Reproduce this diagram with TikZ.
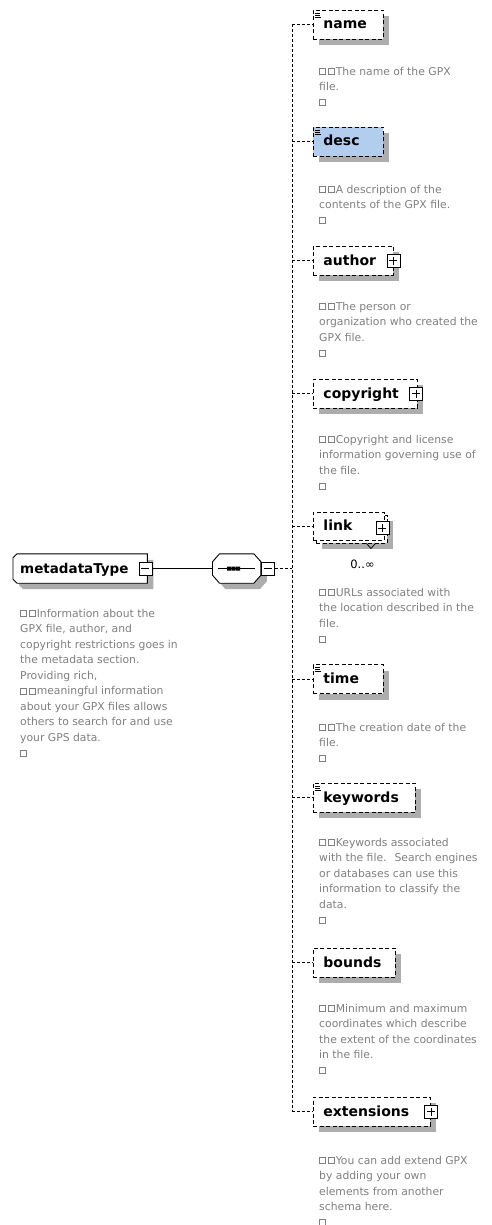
\documentclass[tikz,border=0pt]{standalone}
\usepackage{fontspec}
\setmainfont{DejaVu Sans}
\usetikzlibrary{shadows}

\definecolor{notegray}{HTML}{808080}
\definecolor{shadowgray}{HTML}{ADADAD}
\definecolor{descblue}{HTML}{B3CDEF}

% small hollow square used in the documentation notes
\newcommand\glyphbox{\hbox{\vrule width0.8pt\vbox to 7pt{\hrule height0.8pt width5.4pt\vfil\hrule height0.8pt}\vrule width0.8pt}\kern1.3pt}
\newcommand\leadin{\rule{0pt}{9pt}\glyphbox\glyphbox}

\begin{document}
\begin{tikzpicture}[x=1pt, y=-1pt,
  boxbase/.style={draw, dash pattern=on 4pt off 2.5pt, line width=0.9pt, fill=white,
    minimum height=29pt, inner xsep=10pt, inner ysep=0pt, text height=12pt, text depth=3pt,
    align=left, anchor=west, font=\bfseries\fontsize{14}{16}\selectfont},
  shadowed/.style={general shadow={fill=shadowgray, shadow xshift=6pt, shadow yshift=-6pt}},
  elembox/.style={boxbase, shadowed},
  texticon/.style={path picture={
    \draw[solid, black, line width=0.7pt]
      ([xshift=2pt, yshift=-3pt]path picture bounding box.north west) -- ++(5pt,0pt)
      ([xshift=2pt, yshift=-5pt]path picture bounding box.north west) -- ++(5pt,0pt)
      ([xshift=2pt, yshift=-7pt]path picture bounding box.north west) -- ++(6pt,0pt);}},
  signbox/.style={draw, solid, line width=0.8pt, fill=white, minimum size=13pt, inner sep=0pt},
  plusbox/.style={signbox, path picture={
    \draw[black, line width=0.8pt]
      ([xshift=2.5pt]path picture bounding box.west) -- ([xshift=-2.5pt]path picture bounding box.east)
      ([yshift=-2.5pt]path picture bounding box.north) -- ([yshift=2.5pt]path picture bounding box.south);}},
  minusbox/.style={signbox, path picture={
    \draw[black, line width=0.8pt]
      ([xshift=2.5pt]path picture bounding box.west) -- ([xshift=-2.5pt]path picture bounding box.east);}},
  frame/.style={rectangle, minimum height=29pt, inner sep=0pt},
  typelabel/.style={inner sep=0pt, anchor=base west, font=\bfseries\fontsize{13.5}{16}\selectfont},
  outline/.style={draw, line width=0.9pt, fill=white},
  conn/.style={draw, dash pattern=on 3pt off 2pt, line width=0.9pt},
  solidconn/.style={draw, line width=0.9pt},
  note/.style={anchor=north west, inner sep=0pt, align=left, text=notegray,
    font=\fontsize{10.8}{15.5}\selectfont},
  occ/.style={inner sep=0pt, font=\fontsize{11.5}{13}\selectfont}
]
\fill[white] (0,0) rectangle (492,1225);
\useasboundingbox (0,0) rectangle (492,1225);

% complex type: box with cut corners on its left side
\node[frame, minimum width=134pt, anchor=west] (md) at (13,568.5) {};
\fill[shadowgray] ([xshift=10pt, yshift=-6pt]md.north west) -- ([xshift=6pt, yshift=-6pt]md.north east)
  -- ([xshift=6pt, yshift=-6pt]md.south east) -- ([xshift=10pt, yshift=-6pt]md.south west)
  -- ([xshift=6pt, yshift=-2pt]md.south west) -- ([xshift=6pt, yshift=-10pt]md.north west) -- cycle;
\path[outline] ([xshift=4pt]md.north west) -- (md.north east) -- (md.south east)
  -- ([xshift=4pt]md.south west) -- ([yshift=4pt]md.south west) -- ([yshift=-4pt]md.north west) -- cycle;
\node[typelabel] (mdlabel) at (20,573) {metadataType};
\node[minusbox] (mdminus) at ([xshift=-2pt]md.east) {};

% sequence compositor: octagon with the three-dot bar
\node[frame, minimum width=48pt] (seq) at (236.7,568.5) {};
\fill[shadowgray] ([xshift=13pt, yshift=-6pt]seq.north west) -- ([xshift=-1pt, yshift=-6pt]seq.north east)
  -- ([xshift=6pt, yshift=-14pt]seq.north east) -- ([xshift=6pt, yshift=2pt]seq.south east)
  -- ([xshift=-1pt, yshift=-6pt]seq.south east) -- ([xshift=13pt, yshift=-6pt]seq.south west)
  -- ([xshift=6pt, yshift=2pt]seq.south west) -- ([xshift=6pt, yshift=-14pt]seq.north west) -- cycle;
\path[outline] ([xshift=7pt]seq.north west) -- ([xshift=-7pt]seq.north east)
  -- ([yshift=-8pt]seq.north east) -- ([yshift=8pt]seq.south east)
  -- ([xshift=-7pt]seq.south east) -- ([xshift=7pt]seq.south west)
  -- ([yshift=8pt]seq.south west) -- ([yshift=-8pt]seq.north west) -- cycle;
\draw[line width=1pt] ([xshift=-18.5pt]seq.center) -- ([xshift=18.5pt]seq.center);
\fill ([xshift=-9.7pt, yshift=-2pt]seq.center) rectangle ++(4pt,4pt)
      ([xshift=-5.2pt, yshift=-2pt]seq.center) rectangle ++(4pt,4pt)
      ([xshift=-0.7pt, yshift=-2pt]seq.center) rectangle ++(4pt,4pt);
\node[minusbox, anchor=west] (seqminus) at (seq.east) {};
\draw[solidconn] (mdminus.east) -- (seq.west);
\coordinate (spine) at (292,568.5);
\draw[conn] (seqminus.east) -- (spine);

\node[note] (mdnote) at (20,608) {\leadin Information about the\\GPX file, author, and\\copyright restrictions goes in\\the metadata section.\\Providing rich,\\\glyphbox\glyphbox meaningful information\\about your GPX files allows\\others to search for and use\\your GPS data.\\\glyphbox};

% child elements
\node[elembox, texticon, text width=50pt] (name) at (313,24.5) {name};
\node[elembox, texticon, text width=50pt, fill=descblue] (desc) at (313,141.5) {desc};
\node[elembox, text width=60pt] (author) at (313,260.5) {author};
\node[elembox, text width=84pt] (copyright) at (313,393.5) {copyright};
\node[boxbase, shadowed, text width=51pt, minimum height=28pt] (linkback) at (316,529) {};
\node[boxbase, text width=51pt, minimum height=28pt] (link) at (313,526) {link};
\node[elembox, texticon, text width=50pt] (time) at (313,679) {time};
\node[elembox, texticon, text width=82pt] (keywords) at (313,797.5) {keywords};
\node[elembox, text width=62pt] (bounds) at (313,962.5) {bounds};
\node[elembox, text width=97pt] (extensions) at (313,1111.5) {extensions};

\node[plusbox] (authorplus) at ([xshift=-0.5pt]author.east) {};
\node[plusbox] (copyrightplus) at ([xshift=-2pt]copyright.east) {};
\node[plusbox] (linkplus) at ([xshift=-2.5pt, yshift=-2pt]link.east) {};
\node[plusbox] (extensionsplus) at (extensions.east) {};

% occurrence marker of the repeated element
\draw[solid, line width=0.8pt] ([xshift=14.5pt]linkback.south) -- ++(4.5pt,-5pt) -- ++(4.5pt,5pt);
\node[occ] (linkocc) at (362.5,564) {0..∞};

% sequence branches
\draw[conn] (spine |- name.west) -- (spine |- extensions.west);
\foreach \e in {name,desc,author,copyright,link,time,keywords,bounds,extensions}
  \draw[conn] (spine |- \e.west) -- (\e.west);

% documentation notes
\node[note] (namenote) at (319,66) {\leadin The name of the GPX\\file.\\\glyphbox};
\node[note] (descnote) at (319,184) {\leadin A description of the\\contents of the GPX file.\\\glyphbox};
\node[note] (authornote) at (319,301) {\leadin The person or\\organization who created the\\GPX file.\\\glyphbox};
\node[note] (copyrightnote) at (319,434) {\leadin Copyright and license\\information governing use of\\the file.\\\glyphbox};
\node[note] (linknote) at (319,587) {\leadin URLs associated with\\the location described in the\\file.\\\glyphbox};
\node[note] (timenote) at (319,722) {\leadin The creation date of the\\file.\\\glyphbox};
\node[note] (keywordsnote) at (319,837) {\leadin Keywords associated\\with the file.~ Search engines\\or databases can use this\\information to classify the\\data.\\\glyphbox};
\node[note] (boundsnote) at (319,1003) {\leadin Minimum and maximum\\coordinates which describe\\the extent of the coordinates\\in the file.\\\glyphbox};
\node[note] (extensionsnote) at (319,1155) {\leadin You can add extend GPX\\by adding your own\\elements from another\\schema here.\\\glyphbox};
\end{tikzpicture}
\end{document}
